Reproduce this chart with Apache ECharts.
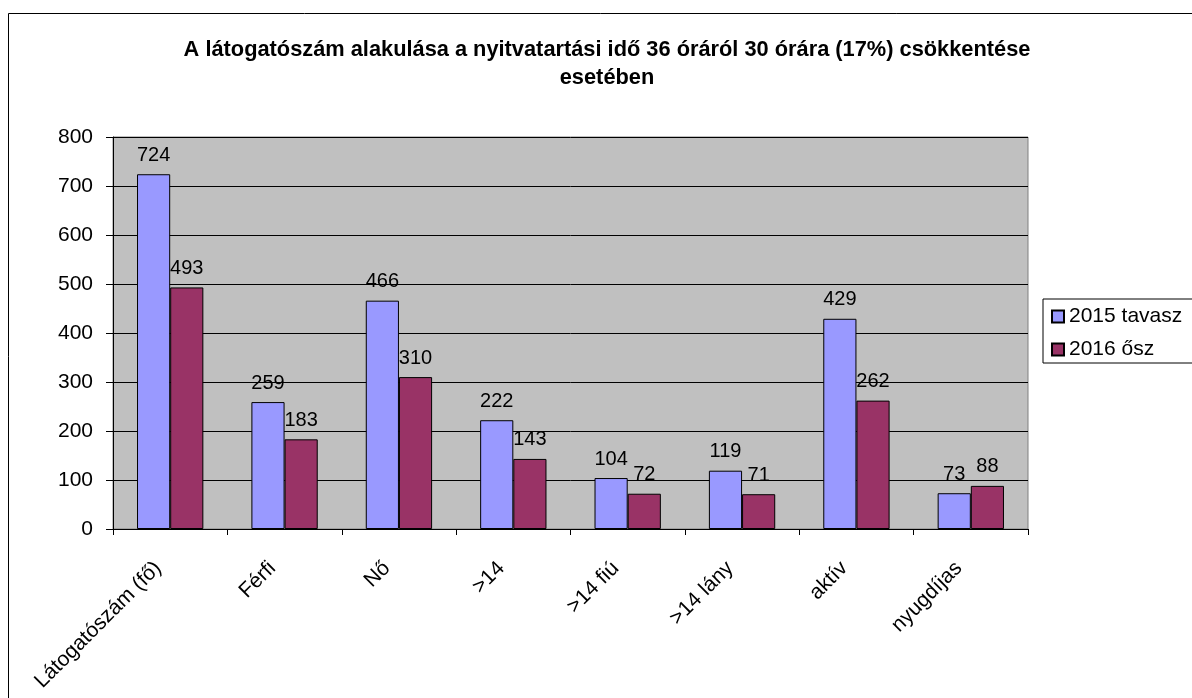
<!DOCTYPE html>
<html><head><meta charset="utf-8">
<script src="https://cdn.jsdelivr.net/npm/echarts@6/dist/echarts.min.js"></script>
<style>html,body{margin:0;padding:0;background:#fff}#c{width:1192px;height:698px}</style>
</head><body><div id="c"></div>
<script>
const categories = ['Látogatószám (fő)', 'Férfi', 'Nő', '>14', '>14 fiú', '>14 lány', 'aktív', 'nyugdíjas'];
const series2015 = [724, 259, 466, 222, 104, 119, 429, 73];
const series2016 = [493, 183, 310, 143, 72, 71, 262, 88];
const seriesNames = ['2015 tavasz', '2016 ősz'];
const yTicks = {min: 0, max: 800, interval: 100};
const titleText = 'A látogatószám alakulása a nyitvatartási idő 36 óráról 30 órára (17%) csökkentése\nesetében';

const font = '"Liberation Sans", Arial, sans-serif';
const chart = echarts.init(document.getElementById('c'));
const lbl = {show: true, position: 'top', color: '#000', fontSize: 20, fontFamily: font, distance: 9};
chart.setOption({
  animation: false,
  textStyle: {fontFamily: font},
  graphic: [{type: 'rect', shape: {x: 8.5, y: 13.5, width: 1300, height: 800}, style: {fill: 'none', stroke: '#000', lineWidth: 1}, z: -10}],
  title: {text: titleText, left: 602, top: 31, textAlign: 'center',
    textStyle: {fontSize: 21.8, fontWeight: 'bold', color: '#000', fontFamily: font, lineHeight: 28}},
  legend: {orient: 'vertical', left: 1043, top: 299, itemWidth: 12, itemHeight: 12, itemGap: 12,
    borderColor: '#000', borderWidth: 1, padding: [7, 30, 3, 8], icon: 'rect',
    textStyle: {fontSize: 21, color: '#000', fontFamily: font},
    data: seriesNames},
  grid: {left: 113, top: 137, width: 915, height: 392, show: true, backgroundColor: '#C0C0C0', borderColor: '#808080', borderWidth: 1},
  xAxis: {type: 'category', data: categories,
    axisLine: {lineStyle: {color: '#000'}}, axisTick: {show: true, length: 6, lineStyle: {color: '#000'}},
    axisLabel: {rotate: 45, fontSize: 21, color: '#000', fontFamily: font, margin: 24, interval: 0, padding: [0, 17, 0, 0]}},
  yAxis: {type: 'value', min: yTicks.min, max: yTicks.max, interval: yTicks.interval,
    axisLine: {show: true, lineStyle: {color: '#000'}}, axisTick: {show: true, length: 7, lineStyle: {color: '#000'}},
    splitLine: {lineStyle: {color: '#000', width: 1}},
    axisLabel: {fontSize: 21, color: '#000', fontFamily: font, margin: 20}},
  series: [
    {name: seriesNames[0], type: 'bar', data: series2015, barGap: '0%', barCategoryGap: '42%',
      itemStyle: {color: '#9999FF', borderColor: '#000', borderWidth: 1}, label: lbl},
    {name: seriesNames[1], type: 'bar', data: series2016,
      itemStyle: {color: '#993366', borderColor: '#000', borderWidth: 1}, label: lbl}
  ]
});
</script></body></html>
